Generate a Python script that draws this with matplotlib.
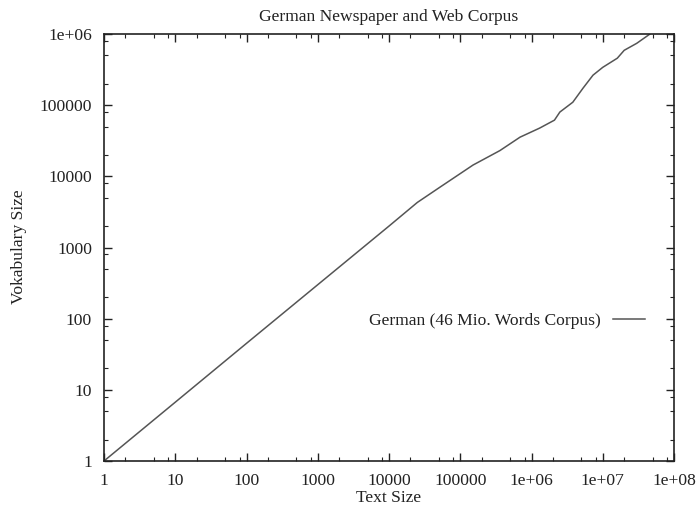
import matplotlib.pyplot as plt
from matplotlib.ticker import LogLocator, FixedFormatter, FixedLocator, NullFormatter

plt.rcParams['font.family'] = ['Liberation Serif', 'DejaVu Serif']

# text size vs. vocabulary size
text_size = [1, 10, 100, 1000, 10000, 25000, 52000, 151000, 360000, 690000,
             1.3e6, 2.1e6, 2.5e6, 3.8e6, 5.3e6, 7.3e6, 1e7, 1.6e7, 2e7, 3e7, 4.6e7]
vocab_size = [1, 6.7, 45, 300, 2000, 4300, 7050, 14400, 23000, 35500,
              47600, 61600, 80000, 110000, 174000, 264000, 340000, 457000,
              590000, 740000, 1e6]

xticks = [1, 10, 100, 1000, 10000, 100000, 1e6, 1e7, 1e8]
xlabels = ['1', '10', '100', '1000', '10000', '100000', '1e+06', '1e+07', '1e+08']
yticks = [1, 10, 100, 1000, 10000, 100000, 1e6]
ylabels = ['1', '10', '100', '1000', '10000', '100000', '1e+06']

fs = 12.6
ink = '#222222'

fig = plt.figure(figsize=(6.97, 5.07), dpi=100)
ax = fig.add_axes([104 / 697, 1 - 461 / 507, 570 / 697, 427 / 507])

ax.plot(text_size, vocab_size, color='#555555', lw=1.1,
        label='German (46 Mio. Words Corpus)')
ax.set_xscale('log')
ax.set_yscale('log')
ax.set_xlim(1, 1e8)
ax.set_ylim(1, 1e6)

ax.xaxis.set_major_locator(FixedLocator(xticks))
ax.xaxis.set_major_formatter(FixedFormatter(xlabels))
ax.yaxis.set_major_locator(FixedLocator(yticks))
ax.yaxis.set_major_formatter(FixedFormatter(ylabels))
for a in (ax.xaxis, ax.yaxis):
    a.set_minor_locator(LogLocator(base=10, subs=(2, 5, 8), numticks=20))
    a.set_minor_formatter(NullFormatter())

ax.tick_params(which='both', direction='in', top=True, right=True,
               color=ink, labelsize=fs, labelcolor=ink)
ax.tick_params(which='major', length=6, width=1, pad=8.5)
ax.tick_params(which='minor', length=3, width=0.8)
for s in ax.spines.values():
    s.set_linewidth(1.2)
    s.set_color(ink)

ax.set_title('German Newspaper and Web Corpus', fontsize=fs, color=ink, pad=9.5)
ax.set_xlabel('Text Size', fontsize=fs, color=ink, labelpad=1)
ax.set_ylabel('Vokabulary Size', fontsize=fs, color=ink)
ax.yaxis.set_label_coords((27 - 104) / 570, (461 - 247) / 427)

leg = ax.legend(loc='center right', bbox_to_anchor=(0.949, 0.328),
                frameon=False, fontsize=fs, markerfirst=False,
                borderpad=0, borderaxespad=0,
                handlelength=1.85, handletextpad=0.65)
for t in leg.get_texts():
    t.set_color(ink)

fig.savefig('out.png', dpi=100, facecolor='white')
